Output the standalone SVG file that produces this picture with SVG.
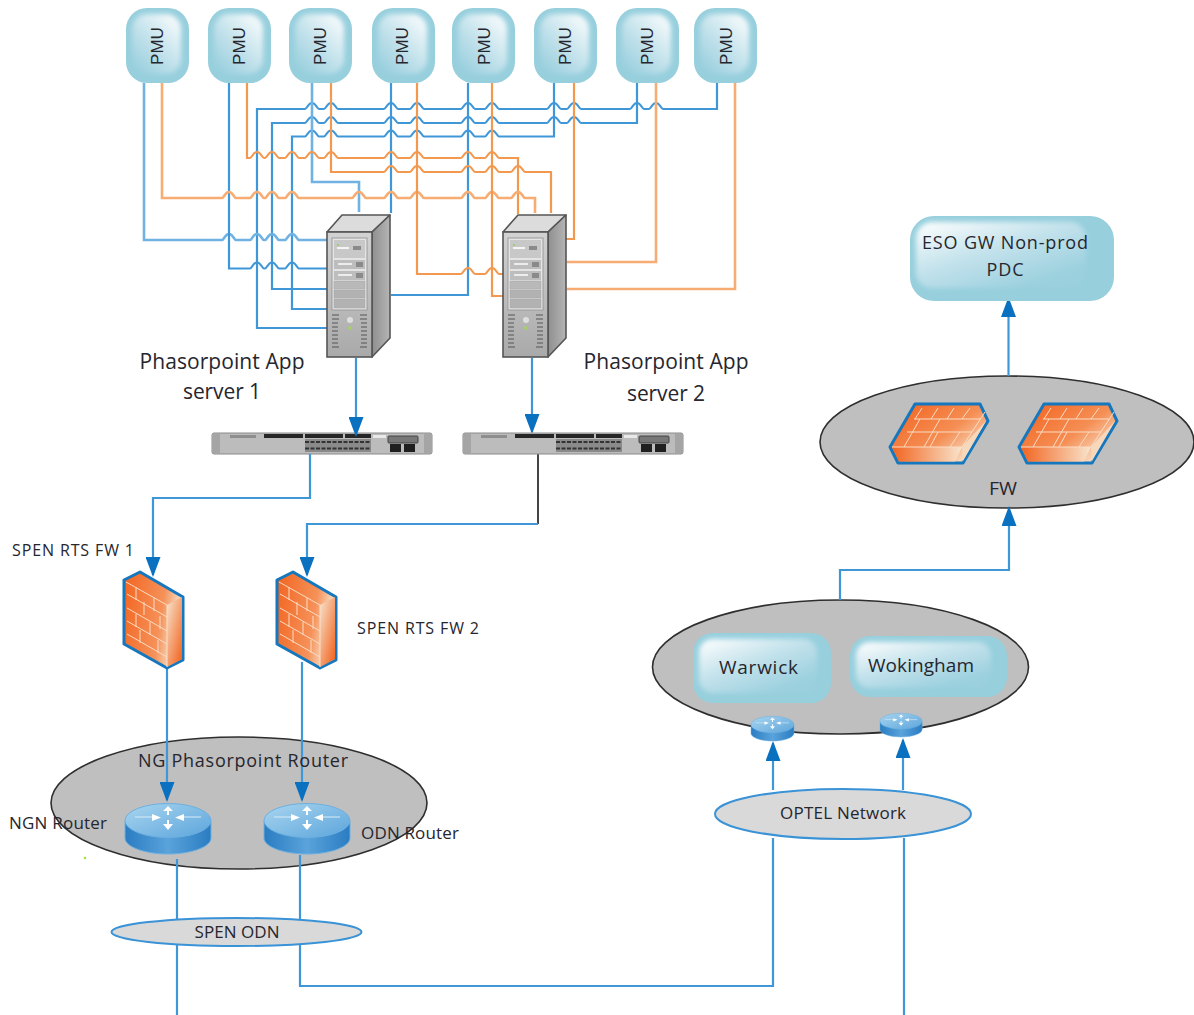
<svg xmlns="http://www.w3.org/2000/svg" xmlns:xlink="http://www.w3.org/1999/xlink" width="1194" height="1015" viewBox="0 0 1194 1015">
<style>
text{font-family:"Open Sans","Noto Sans","Liberation Sans",sans-serif;fill:#26262e}
.pmu{font-family:"Liberation Sans",Arial,sans-serif;font-size:17px;text-anchor:middle}
.b{fill:none;stroke:#3f97d8;stroke-width:2.200}
.bl{fill:none;stroke:#70b3e2;stroke-width:2.600}
.o{fill:none;stroke:#f3994f;stroke-width:2.200}
.ol{fill:none;stroke:#f6ac72;stroke-width:2.600}
.a{fill:none;stroke:#3f97d8;stroke-width:2.200;marker-end:url(#arr)}
.zone{fill:#bfbfbf;stroke:#2e2e2e;stroke-width:1.600}
.net{fill:#d9d9d9;stroke:#3a93d6;stroke-width:2}
.outer{fill:#97cfdd}
.brick{fill:none;stroke:#fbdcc4;stroke-width:1}
.vent{stroke:#555;stroke-width:1}
</style>
<defs>
<marker id="arr" viewBox="0 0 20 15" refX="18" refY="7.500" markerUnits="userSpaceOnUse" markerWidth="20" markerHeight="15" orient="auto"><path d="M0,0L20,7.500L0,15z" fill="#0a70c0"/></marker>
<filter id="soft" x="-20%" y="-20%" width="140%" height="140%"><feGaussianBlur stdDeviation="2.500"/></filter>
<linearGradient id="glossTR" x1="1" y1="0" x2="0.2" y2="1"><stop offset="0" stop-color="#fff"/><stop offset="0.55" stop-color="#c5e3ec"/><stop offset="1" stop-color="#9bd0de"/></linearGradient>
<linearGradient id="glossTL" x1="0" y1="0" x2="0.75" y2="0.9"><stop offset="0" stop-color="#fff"/><stop offset="0.5" stop-color="#c5e3ec"/><stop offset="1" stop-color="#9bd0de"/></linearGradient>
<linearGradient id="fwFront" x1="0" y1="0" x2="1" y2="0.25"><stop offset="0" stop-color="#f2641f"/><stop offset="0.7" stop-color="#f5925a"/><stop offset="1" stop-color="#f7e5cf"/></linearGradient>
<linearGradient id="fwSide" x1="0" y1="0" x2="0.9" y2="1"><stop offset="0" stop-color="#f7e5cf"/><stop offset="1" stop-color="#f2641f"/></linearGradient>
<linearGradient id="fwFlat" x1="0" y1="0" x2="1" y2="0.8"><stop offset="0" stop-color="#f2601c"/><stop offset="0.6" stop-color="#f58f55"/><stop offset="1" stop-color="#f8ebd6"/></linearGradient>
<linearGradient id="fwEdge" x1="0" y1="0" x2="1" y2="0"><stop offset="0" stop-color="#f2641f"/><stop offset="1" stop-color="#f8e4cc"/></linearGradient>
<linearGradient id="rtTop" x1="0" y1="0" x2="1" y2="1"><stop offset="0" stop-color="#a9d5ef"/><stop offset="1" stop-color="#5ca5dc"/></linearGradient>
<linearGradient id="rtBody" x1="0" y1="0" x2="1" y2="0"><stop offset="0" stop-color="#2a7cc2"/><stop offset="0.5" stop-color="#5aa3db"/><stop offset="1" stop-color="#2a7cc2"/></linearGradient>
<linearGradient id="srvFront" x1="0" y1="0" x2="0" y2="1"><stop offset="0" stop-color="#d2d2d2"/><stop offset="1" stop-color="#a9a9a9"/></linearGradient>
<linearGradient id="srvSide" x1="0" y1="0" x2="1" y2="0"><stop offset="0" stop-color="#8f8f8f"/><stop offset="1" stop-color="#b5b5b5"/></linearGradient>

<g id="pmuBox"><rect x="0" y="0" width="63" height="75" rx="21" class="outer"/><rect x="6" y="6" width="49" height="60" rx="15" fill="url(#glossTR)" filter="url(#soft)"/></g>

<g id="server">
<path d="M0,17L15,0H63L45,17z" fill="#dcdcdc" stroke="#555" stroke-width="1.600" stroke-linejoin="round"/>
<path d="M45,17L63,0V123L45,142z" fill="url(#srvSide)" stroke="#555" stroke-width="1.600" stroke-linejoin="round"/>
<rect x="0" y="17" width="45" height="125" fill="url(#srvFront)" stroke="#555" stroke-width="1.600"/>
<rect x="5" y="23" width="35" height="72" fill="#e4e4e4" stroke="#9a9a9a"/>
<rect x="7" y="25" width="31" height="18" fill="#c8c8c8"/><rect x="10" y="32" width="12" height="2" fill="#f4f4f4"/><circle cx="11" cy="30" r="1" fill="#8fd14f"/><rect x="26" y="31" width="8" height="4" fill="#8a8a8a"/>
<rect x="7" y="45" width="31" height="9" fill="#bdbdbd"/><rect x="11" y="48" width="14" height="2" fill="#ececec"/><rect x="29" y="47" width="7" height="5" fill="#8a8a8a"/>
<rect x="7" y="56" width="31" height="9" fill="#bdbdbd"/><rect x="11" y="59" width="14" height="2" fill="#ececec"/><rect x="29" y="58" width="7" height="5" fill="#8a8a8a"/>
<rect x="7" y="66" width="31" height="8" fill="#b9b9b9" stroke="#a5a5a5" stroke-width=".5"/>
<rect x="7" y="75" width="31" height="8" fill="#b2b2b2" stroke="#a5a5a5" stroke-width=".5"/>
<rect x="7" y="84" width="31" height="9" fill="#b2b2b2" stroke="#a5a5a5" stroke-width=".5"/>
<circle cx="23" cy="105" r="3" fill="#dedede"/><circle cx="23" cy="113" r="1.600" fill="#a6d94a"/>
<path class="vent" d="M5,100h7M5,104h7M5,108h6M5,112h6M5,116h6M5,120h6M5,124h6M5,128h6M5,132h7M33,100h7M33,104h7M34,108h6M34,112h6M34,116h6M34,120h6M34,124h6M34,128h6M33,132h7"/>
</g>

<g id="switch">
<rect x="0" y="0" width="220" height="21" rx="2" fill="#bcbcbc" stroke="#8a8a8a"/>
<rect x="0" y="1" width="8" height="19" fill="#a5a5a5"/><rect x="212" y="1" width="8" height="19" fill="#a5a5a5"/>
<rect x="52" y="1" width="39" height="4" fill="#262626"/><rect x="93" y="1" width="38" height="4" fill="#262626"/><rect x="133" y="1" width="26" height="4" fill="#262626"/>
<rect x="161" y="2" width="13" height="3" fill="#e8e8e8"/>
<rect x="93" y="6" width="66" height="13" fill="#8a8a8a"/>
<path d="M93,9h66M93,15.500h66" stroke="#333" stroke-width="2" stroke-dasharray="4 1.500"/>
<rect x="176" y="3" width="30" height="7" rx="1" fill="#777" stroke="#444"/>
<rect x="178" y="11" width="11" height="8" fill="#1f1f1f"/><rect x="192" y="11" width="11" height="8" fill="#1f1f1f"/>
<rect x="18" y="2" width="26" height="3" fill="#8e8e8e"/>
</g>

<g id="fwWall">
<path d="M0,8L16,0L59,25V88L43,96L0,72z" fill="url(#fwFront)" stroke="#1577bd" stroke-width="3" stroke-linejoin="round"/>
<path d="M43,33L58,25V87L43,95z" fill="url(#fwSide)"/>
<path class="brick" d="M2,10L43,33V95M3,22L43,45M3,36L43,59M3,49L43,72M3,62L43,85M12,15V28M30,26V39M20,30V43M36,44V57M12,42V55M26,50V63M34,68V81M16,58V71"/>
</g>

<g id="fwFlat1">
<path d="M25,0H90L98,17L73,59H8L0,43z" fill="url(#fwFlat)" stroke="#1577bd" stroke-width="3" stroke-linejoin="round"/>
<path d="M2,43H72L65,57.500H9z" fill="url(#fwEdge)"/>
<path d="M72,43L96,17L73,57z" fill="#f6d9bd"/>
<path class="brick" d="M2,43H72L95,8M17,28H82M24,15H91M32,4L25,15M48,4L41,15M64,4L57,15M80,4L72,15M30,15L14,43M50,15L34,43M70,28L60,43M48,28L40,43"/>
</g>

<g id="router">
<path d="M0,18V35C0,44 20,51 43,51S86,44 86,35V18z" fill="url(#rtBody)" stroke="#6cb0e0" stroke-width="1"/>
<ellipse cx="43" cy="17.500" rx="43" ry="17" fill="url(#rtTop)" stroke="#6cb0e0" stroke-width="1"/>
<path d="M10,14H32M54,14H76" stroke="#d9ecf8" stroke-width="1.200" fill="none"/>
<path d="M43,3L38,8H48zM43,27L38,21H48zM27,11L36,14.500L27,18zM59,11L50,14.500L59,18z" fill="#fff"/>
<path d="M43,8V12M43,17V21" stroke="#fff" stroke-width="2"/>
</g>
</defs>

<g id="ng-zone"><ellipse class="zone" cx="239" cy="803" rx="188" ry="66"/></g>
<g id="fw-zone"><ellipse class="zone" cx="1007" cy="442" rx="187" ry="66"/></g>
<g id="site-zone"><ellipse class="zone" cx="840.500" cy="667" rx="188" ry="67"/></g>
<g id="switch-1"><use xlink:href="#switch" href="#switch" x="212" y="433"/></g>

<g id="connectors">
<path class="b" d="M327,328H257V109H305c2,0 3,-6 7,-6s5,6 7,6H324c2,0 3,-6 7,-6s5,6 7,6H384c2,0 3,-6 7,-6s5,6 7,6H410c2,0 3,-6 7,-6s5,6 7,6H461c2,0 3,-6 7,-6s5,6 7,6H485c2,0 3,-6 7,-6s5,6 7,6H547c2,0 3,-6 7,-6s5,6 7,6H567c2,0 3,-6 7,-6s5,6 7,6H630c2,0 3,-6 7,-6s5,6 7,6H649c2,0 3,-6 7,-6s5,6 7,6H717V83"/>
<path class="b" d="M327,289H272V123H305c2,0 3,-6 7,-6s5,6 7,6H324c2,0 3,-6 7,-6s5,6 7,6H384c2,0 3,-6 7,-6s5,6 7,6H410c2,0 3,-6 7,-6s5,6 7,6H461c2,0 3,-6 7,-6s5,6 7,6H485c2,0 3,-6 7,-6s5,6 7,6H547c2,0 3,-6 7,-6s5,6 7,6H567c2,0 3,-6 7,-6s5,6 7,6H637V83"/>
<path class="b" d="M327,309H292V136.500H305c2,0 3,-6 7,-6s5,6 7,6H324c2,0 3,-6 7,-6s5,6 7,6H384c2,0 3,-6 7,-6s5,6 7,6H410c2,0 3,-6 7,-6s5,6 7,6H461c2,0 3,-6 7,-6s5,6 7,6H485c2,0 3,-6 7,-6s5,6 7,6H554V83"/>
<path class="bl" d="M144,83V240H222c2,0 3,-6 7,-6s5,6 7,6H250c2,0 3,-6 7,-6s5,6 7,6H265c2,0 3,-6 7,-6s5,6 7,6H285c2,0 3,-6 7,-6s5,6 7,6H327"/>
<path class="b" d="M229,83V268.500H250c2,0 3,-6 7,-6s5,6 7,6H265c2,0 3,-6 7,-6s5,6 7,6H285c2,0 3,-6 7,-6s5,6 7,6H327"/>
<path class="bl" d="M312,83V182H359V212"/>
<path class="b" d="M391,83V213"/>
<path class="b" d="M468,83V295H391"/>
<path class="o" d="M247,83V158H250c2,0 3,-6 7,-6s5,6 7,6H265c2,0 3,-6 7,-6s5,6 7,6H285c2,0 3,-6 7,-6s5,6 7,6H305c2,0 3,-6 7,-6s5,6 7,6H324c2,0 3,-6 7,-6s5,6 7,6H384c2,0 3,-6 7,-6s5,6 7,6H410c2,0 3,-6 7,-6s5,6 7,6H461c2,0 3,-6 7,-6s5,6 7,6H485c2,0 3,-6 7,-6s5,6 7,6H518V214"/>
<path class="o" d="M331,83V172H384c2,0 3,-6 7,-6s5,6 7,6H410c2,0 3,-6 7,-6s5,6 7,6H461c2,0 3,-6 7,-6s5,6 7,6H485c2,0 3,-6 7,-6s5,6 7,6H511c2,0 3,-6 7,-6s5,6 7,6H551V213"/>
<path class="ol" d="M162,83V198H222c2,0 3,-6 7,-6s5,6 7,6H250c2,0 3,-6 7,-6s5,6 7,6H265c2,0 3,-6 7,-6s5,6 7,6H285c2,0 3,-6 7,-6s5,6 7,6H352c2,0 3,-6 7,-6s5,6 7,6H384c2,0 3,-6 7,-6s5,6 7,6H410c2,0 3,-6 7,-6s5,6 7,6H461c2,0 3,-6 7,-6s5,6 7,6H485c2,0 3,-6 7,-6s5,6 7,6H511c2,0 3,-6 7,-6s5,6 7,6H535V213"/>
<path class="o" d="M417,83V274H461c2,0 3,-6 7,-6s5,6 7,6H485c2,0 3,-6 7,-6s5,6 7,6H503"/>
<path class="o" d="M492,83V296H503"/>
<path class="o" d="M574,83V239H566"/>
<path class="ol" d="M656,83V262H567"/>
<path class="ol" d="M735,83V289H567"/>
<path class="a" d="M356,358V435"/>
<path class="a" d="M532,358V432"/>
<path class="a" d="M310,454V498H153V575"/>
<path d="M538,454V524" fill="none" stroke="#444" stroke-width="2"/>
<path class="a" d="M538,524H307V575"/>
<path class="a" d="M167,668V800"/>
<path class="a" d="M302,662V800"/>
<path class="b" d="M177,859V1015"/>
<path class="b" d="M300,855V986H773V838"/>
<path class="a" d="M773,790V743"/>
<path class="b" d="M904,1015V838"/>
<path class="a" d="M903,790V740"/>
<path class="a" d="M840,600V570H1009V508"/>
<path class="a" d="M1008.500,376V299"/>
</g>

<g id="pmu-1"><use xlink:href="#pmuBox" href="#pmuBox" x="126" y="8"/><text class="pmu" transform="translate(163,46) rotate(-90)">PMU</text></g>
<g id="pmu-2"><use xlink:href="#pmuBox" href="#pmuBox" x="208" y="8"/><text class="pmu" transform="translate(245,46) rotate(-90)">PMU</text></g>
<g id="pmu-3"><use xlink:href="#pmuBox" href="#pmuBox" x="289" y="8"/><text class="pmu" transform="translate(326,46) rotate(-90)">PMU</text></g>
<g id="pmu-4"><use xlink:href="#pmuBox" href="#pmuBox" x="372" y="8"/><text class="pmu" transform="translate(408,46) rotate(-90)">PMU</text></g>
<g id="pmu-5"><use xlink:href="#pmuBox" href="#pmuBox" x="452" y="8"/><text class="pmu" transform="translate(490,46) rotate(-90)">PMU</text></g>
<g id="pmu-6"><use xlink:href="#pmuBox" href="#pmuBox" x="534" y="8"/><text class="pmu" transform="translate(571,46) rotate(-90)">PMU</text></g>
<g id="pmu-7"><use xlink:href="#pmuBox" href="#pmuBox" x="616" y="8"/><text class="pmu" transform="translate(653,46) rotate(-90)">PMU</text></g>
<g id="pmu-8"><use xlink:href="#pmuBox" href="#pmuBox" x="694" y="8"/><text class="pmu" transform="translate(732,46) rotate(-90)">PMU</text></g>

<g id="server-1"><use xlink:href="#server" href="#server" x="327" y="215"/>
<text x="222" y="369" font-size="21" text-anchor="middle" textLength="165">Phasorpoint App</text>
<text x="222" y="399" font-size="21" text-anchor="middle" textLength="78">server 1</text></g>
<g id="server-2"><use xlink:href="#server" href="#server" x="503" y="215"/>
<text x="666" y="369" font-size="21" text-anchor="middle" textLength="165">Phasorpoint App</text>
<text x="666" y="401" font-size="21" text-anchor="middle" textLength="78">server 2</text></g>
<g id="switch-2"><use xlink:href="#switch" href="#switch" x="463" y="433"/></g>

<g id="spen-fw-1"><use xlink:href="#fwWall" href="#fwWall" x="124" y="572"/>
<text x="12" y="556" font-size="16" textLength="122">SPEN RTS FW 1</text></g>
<g id="spen-fw-2"><use xlink:href="#fwWall" href="#fwWall" x="277" y="572"/>
<text x="357" y="634" font-size="16" textLength="122">SPEN RTS FW 2</text></g>

<g id="ngn-router"><use xlink:href="#router" href="#router" x="125" y="803"/>
<text x="9" y="829" font-size="17" textLength="98">NGN Router</text></g>
<g id="odn-router"><use xlink:href="#router" href="#router" x="264" y="803"/>
<text x="361" y="839" font-size="17" textLength="98">ODN Router</text></g>
<g id="ng-zone-label"><text x="138" y="767" font-size="18" textLength="210">NG Phasorpoint Router</text></g>
<g id="spen-odn"><ellipse class="net" cx="236.500" cy="932" rx="125" ry="14"/>
<text x="237" y="938" font-size="17" text-anchor="middle" textLength="85">SPEN ODN</text></g>
<g id="optel-network"><ellipse class="net" cx="843" cy="814" rx="128" ry="25"/>
<text x="843" y="819" font-size="17" text-anchor="middle" textLength="126">OPTEL Network</text></g>

<g id="warwick"><rect x="693" y="633" width="138" height="70" rx="20" class="outer"/><rect x="699" y="639" width="118" height="54" rx="14" fill="url(#glossTL)" filter="url(#soft)"/>
<text x="719" y="674" font-size="19" textLength="79">Warwick</text></g>
<g id="wokingham"><rect x="850" y="636" width="157" height="61" rx="20" class="outer"/><rect x="856" y="642" width="135" height="46" rx="14" fill="url(#glossTL)" filter="url(#soft)"/>
<text x="868" y="672" font-size="19" textLength="106">Wokingham</text></g>
<g id="router-warwick"><use xlink:href="#router" href="#router" transform="translate(751,716) scale(.5,.49)"/></g>
<g id="router-wokingham"><use xlink:href="#router" href="#router" transform="translate(880,713) scale(.49,.47)"/></g>

<g id="fw-a"><use xlink:href="#fwFlat1" href="#fwFlat1" x="890" y="404"/></g>
<g id="fw-b"><use xlink:href="#fwFlat1" href="#fwFlat1" x="1019" y="404"/></g>
<g id="fw-label"><text x="1003" y="495" font-size="18" text-anchor="middle" textLength="28" lengthAdjust="spacingAndGlyphs">FW</text></g>

<g id="eso-pdc"><rect x="910" y="216" width="204" height="85" rx="24" class="outer"/><rect x="916" y="222" width="170" height="66" rx="16" fill="url(#glossTL)" filter="url(#soft)"/>
<text x="922" y="249" font-size="18" textLength="166">ESO GW Non-prod</text>
<text x="1005" y="276" font-size="18" text-anchor="middle" textLength="37">PDC</text></g>
<circle cx="85" cy="858" r="1.300" fill="#a6e23c"/>
</svg>
